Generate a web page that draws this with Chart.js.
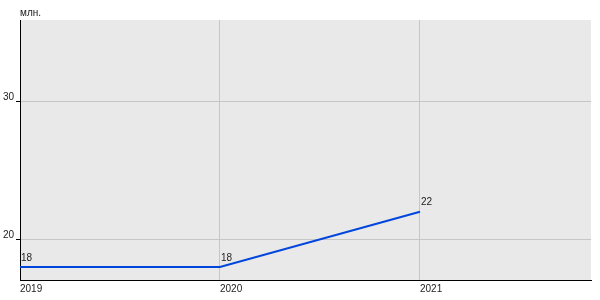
<!DOCTYPE html>
<html><head><meta charset="utf-8">
<script src="https://cdn.jsdelivr.net/npm/chart.js@4"></script>
<style>html,body{margin:0;padding:0;background:#fff}</style>
</head><body>
<canvas id="c" width="600" height="300"></canvas>
<script>
const years = [2019, 2020, 2021];
const values = [18, 18, 22];
const xTicks = [2019, 2020, 2021];
const yTicks = [20, 30];
const unitLabel = 'млн.';

const X_MIN = 2019, X_MAX = 2021.855, Y_MIN = 17.06, Y_MAX = 35.86;
const FONT = { family: '"Liberation Sans", Arial, sans-serif', size: 10 };
const TEXT = '#222';

const bgPlugin = {
  id: 'bg',
  beforeDraw(chart) {
    const a = chart.chartArea, ctx = chart.ctx;
    ctx.save();
    ctx.fillStyle = '#e9e9e9';
    ctx.fillRect(a.left, a.top, a.right - a.left, a.bottom - a.top);
    ctx.restore();
  }
};

const labelPlugin = {
  id: 'vlabels',
  afterDatasetsDraw(chart) {
    const ctx = chart.ctx;
    const meta = chart.getDatasetMeta(0);
    ctx.save();
    ctx.font = '10px "Liberation Sans", Arial, sans-serif';
    ctx.fillStyle = TEXT;
    ctx.textAlign = 'left';
    ctx.textBaseline = 'alphabetic';
    meta.data.forEach((pt, i) => {
      ctx.fillText(String(values[i]), pt.x + 1, pt.y - 6.5);
    });
    ctx.fillText(unitLabel, chart.chartArea.left, 15.5);
    ctx.restore();
  }
};

new Chart(document.getElementById('c'), {
  type: 'line',
  data: {
    datasets: [{
      data: years.map((x, i) => ({ x, y: values[i] })),
      borderColor: '#0046dc',
      borderWidth: 2,
      pointRadius: 0,
      tension: 0,
      fill: false
    }]
  },
  options: {
    responsive: false,
    animation: false,
    layout: { padding: { top: 20, right: 9, left: 0, bottom: 0 } },
    plugins: { legend: { display: false }, tooltip: { enabled: false } },
    scales: {
      x: {
        type: 'linear', position: 'bottom', min: X_MIN, max: X_MAX,
        afterBuildTicks: s => { s.ticks = xTicks.map(v => ({ value: v })); },
        afterFit: s => { s.height = 20; },
        grid: { color: '#c6c6c6', drawTicks: false },
        border: { color: '#000', width: 1 },
        ticks: { align: 'start', padding: 3, font: FONT, color: TEXT, maxRotation: 0, autoSkip: false, callback: v => String(v) }
      },
      y: {
        type: 'linear', position: 'left', min: Y_MIN, max: Y_MAX,
        afterBuildTicks: s => { s.ticks = yTicks.map(v => ({ value: v })); },
        afterFit: s => { s.width = 20; },
        grid: { color: '#c6c6c6', tickColor: '#000', tickLength: 4 },
        border: { color: '#000', width: 1 },
        ticks: { padding: 2, labelOffset: -4, font: FONT, color: TEXT, callback: v => String(v) }
      }
    }
  },
  plugins: [bgPlugin, labelPlugin]
});
</script>
</body></html>
